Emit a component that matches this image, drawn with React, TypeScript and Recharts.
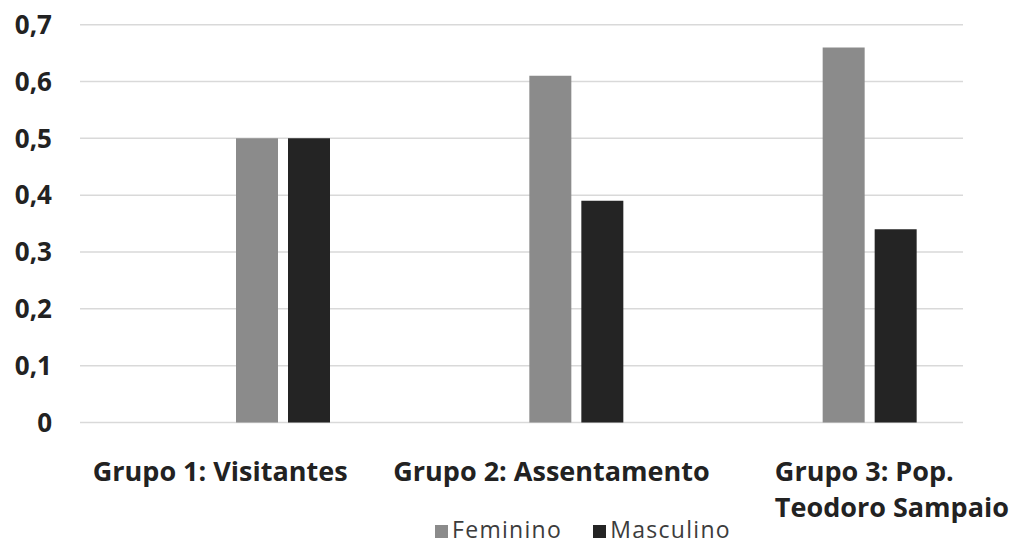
import React from 'react';
import { BarChart, Bar, XAxis, YAxis, CartesianGrid, Legend } from 'recharts';

// Share of respondents by sex in each group
const categories = ['Grupo 1: Visitantes', 'Grupo 2: Assentamento', 'Grupo 3: Pop. Teodoro Sampaio'];
const feminino = [0.5, 0.61, 0.66];
const masculino = [0.5, 0.39, 0.34];
const yTicks = [0, 0.1, 0.2, 0.3, 0.4, 0.5, 0.6, 0.7];
// Category labels split into the lines they wrap to under the axis
const categoryLines = [['Grupo 1: Visitantes'], ['Grupo 2: Assentamento'], ['Grupo 3: Pop.', 'Teodoro Sampaio']];

const seriesNames = ['Feminino', 'Masculino'];
const seriesColors = ['#8b8b8b', '#242424'];

const data = categories.map((name, i) => ({
  name,
  Feminino: feminino[i],
  Masculino: masculino[i],
}));

const FONT = '"Open Sans", "Noto Sans", sans-serif';

// Horizontal placement of each category label relative to its tick
const labelPlacement = [
  { dx: -62.5, anchor: 'middle' },
  { dx: -24.5, anchor: 'middle' },
  { dx: -94.5, anchor: 'start' },
];

const formatY = (v: number) => (v === 0 ? '0' : v.toFixed(1).replace('.', ','));

const CategoryTick = (props: any) => {
  const { x, y, payload } = props;
  const idx = payload.index ?? categories.indexOf(payload.value);
  const lines = categoryLines[idx] || [String(payload.value)];
  const place = labelPlacement[idx] || { dx: 0, anchor: 'middle' };
  return (
    <g>
      {lines.map((line, li) => (
        <text
          key={li}
          x={x + place.dx}
          y={y + 58.7 + li * 35.8}
          textAnchor={place.anchor}
          fontFamily={FONT}
          fontWeight={700}
          fontSize={27}
          fill="#222222"
        >
          {line}
        </text>
      ))}
    </g>
  );
};

const LegendContent = () => (
  <div style={{ display: 'flex', alignItems: 'center', fontFamily: FONT, fontSize: 23, color: '#3c3c3c', letterSpacing: 1.3, lineHeight: '28px' }}>
    {seriesNames.map((n, i) => (
      <div key={n} style={{ display: 'flex', alignItems: 'center', marginRight: i === 0 ? 31 : 0 }}>
        <span style={{ display: 'inline-block', width: 13, height: 13, background: seriesColors[i], marginRight: 4, marginTop: 4 }} />
        <span>{n}</span>
      </div>
    ))}
  </div>
);

export default function App() {
  return (
    <div style={{ position: 'absolute', left: 0, top: 0, width: 1014, height: 544, background: '#ffffff' }}>
      <BarChart
        width={1014}
        height={544}
        data={data}
        margin={{ top: 24.7, right: 51, bottom: 0, left: 0 }}
        barSize={42}
        barGap={10}
      >
        <CartesianGrid vertical={false} stroke="#d9d9d9" strokeWidth={1.5} />
        <XAxis
          dataKey="name"
          axisLine={false}
          tickLine={false}
          tickSize={0}
          tickMargin={0}
          height={121.5}
          padding={{ left: 56, right: -53 }}
          interval={0}
          tick={<CategoryTick />}
        />
        <YAxis
          domain={[0, 0.7]}
          ticks={yTicks}
          tickFormatter={formatY}
          axisLine={false}
          tickLine={false}
          tickSize={0}
          tickMargin={28}
          width={80}
          tick={{ fontFamily: FONT, fontWeight: 700, fontSize: 26, fill: '#222222' }}
        />
        <Legend
          layout="horizontal"
          verticalAlign="middle"
          align="center"
          wrapperStyle={{ left: 435, top: 515, width: 400 }}
          content={<LegendContent />}
        />
        {seriesNames.map((n, i) => (
          <Bar key={n} dataKey={n} fill={seriesColors[i]} isAnimationActive={false} />
        ))}
      </BarChart>
    </div>
  );
}
